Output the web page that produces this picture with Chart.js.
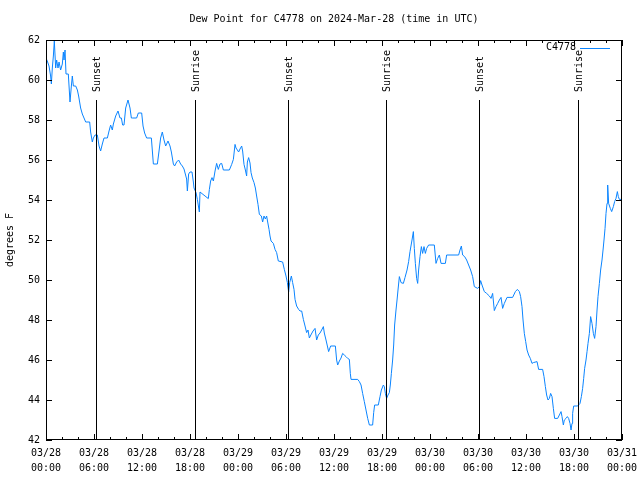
<!DOCTYPE html>
<html>
<head>
<meta charset="utf-8">
<script src="https://cdn.jsdelivr.net/npm/chart.js@4/dist/chart.umd.min.js"></script>
<style>
  html,body{margin:0;padding:0;background:#fff;}
</style>
</head>
<body>
<canvas id="dew" width="640" height="480"></canvas>
<script>
// hours since 03/28 00:00 UTC
var hours=[0,0.2,0.375,0.58,0.67,0.79,0.92,1.04,1.21,1.33,1.5,1.63,1.83,2.04,2.17,2.25,2.38,2.5,2.79,2.88,
3,3.17,3.29,3.42,3.71,3.92,4.08,4.33,4.54,4.75,4.96,5.46,5.58,5.79,5.92,6.13,6.42,6.63,6.83,7.04,
7.25,7.67,7.88,8.08,8.29,8.42,8.71,9,9.25,9.42,9.58,9.75,9.96,10.25,10.5,10.67,10.79,11.33,11.54,11.96,
12.13,12.33,12.58,13.17,13.42,13.92,14.13,14.33,14.54,14.75,14.96,15.25,15.5,15.67,15.92,16.08,16.33,16.58,16.83,17.04,
17.25,17.58,17.67,17.83,18,18.25,18.42,18.5,18.75,18.92,19.17,19.25,19.88,20.29,20.42,20.58,20.75,20.92,21.13,21.33,
21.54,21.75,21.96,22.17,22.92,23.21,23.42,23.63,23.75,23.92,24.08,24.25,24.46,24.58,24.75,24.92,25.08,25.17,25.33,25.5,
25.63,25.79,26,26.17,26.33,26.5,26.67,26.92,27.08,27.25,27.42,27.58,27.71,27.88,28,28.13,28.42,28.63,28.83,29.04,
29.58,29.79,30,30.17,30.33,30.46,30.67,30.83,31,31.13,31.33,31.58,31.75,31.96,32.17,32.38,32.58,32.75,32.92,33.17,
33.38,33.63,33.83,34.04,34.25,34.46,34.67,34.79,35,35.17,35.33,35.58,36,36.17,36.33,36.46,36.67,36.88,37.08,37.29,
37.5,37.71,37.92,38.04,38.13,38.96,39.17,39.38,39.58,39.79,40,40.21,40.42,40.83,40.96,41.08,41.54,41.75,41.92,42.17,
42.29,42.42,42.58,42.75,42.92,43.04,43.17,43.33,43.46,43.58,43.75,43.88,44,44.17,44.38,44.67,44.88,45.13,45.33,45.5,
45.75,45.92,46.04,46.17,46.33,46.46,46.58,46.75,46.92,47.08,47.25,47.42,47.58,47.83,48.54,48.75,48.96,49.17,49.38,49.92,
50.08,51.58,51.75,51.92,52.08,52.33,52.58,52.83,53.08,53.33,53.54,53.96,54.17,54.33,54.5,54.79,55.08,55.42,55.63,55.83,
56.04,56.25,56.46,56.67,56.88,57.08,57.29,57.63,58.33,58.67,58.92,59.17,59.33,59.5,59.63,59.79,59.96,60.13,60.33,60.54,
60.75,60.92,61.38,61.58,62.08,62.25,62.42,62.58,62.75,62.92,63.08,63.25,63.42,63.58,63.96,64.17,64.38,64.5,64.67,64.79,
65,65.17,65.33,65.5,65.63,65.75,65.83,65.96,66.46,66.75,66.92,67.08,67.21,67.33,67.5,67.63,67.75,67.92,68.08,68.25,
68.42,68.58,68.75,68.88,69,69.17,69.33,69.5,69.63,69.75,69.88,70,70.13,70.21,70.33,70.54,70.71,70.92,71.08,71.25,
71.42,71.54,71.67,71.88];
var dewPoint=[61.1,60.9,60.7,60.2,59.8,60.6,61.2,61.95,60.6,61.0,60.6,60.9,60.5,60.8,61.4,61.0,61.5,60.3,60.3,59.7,
58.9,59.7,60.2,59.7,59.7,59.5,59.2,58.6,58.3,58.1,57.9,57.9,57.4,56.9,57.1,57.25,57.25,56.7,56.45,56.8,
57.1,57.1,57.45,57.75,57.5,57.8,58.2,58.45,58.1,58.1,57.75,57.75,58.6,59.0,58.6,58.1,58.1,58.1,58.35,58.35,
57.7,57.35,57.1,57.1,55.8,55.8,56.45,57.1,57.4,57.0,56.7,56.95,56.7,56.4,55.8,55.7,55.9,56.0,55.8,55.7,
55.55,55.05,54.45,55.3,55.4,55.4,54.9,54.6,54.37,54.03,53.4,54.4,54.2,54.07,54.53,54.95,55.12,54.95,55.45,55.83,
55.53,55.8,55.83,55.5,55.5,55.78,56.03,56.78,56.6,56.5,56.4,56.55,56.7,56.45,55.78,55.5,55.2,55.9,56.12,55.85,
55.37,55.1,54.87,54.6,54.2,53.78,53.28,53.2,52.9,53.2,53.05,53.2,52.9,52.53,52.2,51.95,51.83,51.53,51.37,50.95,
50.9,50.53,50.2,49.87,49.4,49.87,50.2,49.87,49.53,49.03,48.7,48.53,48.45,48.45,48.03,47.7,47.37,47.5,47.1,47.3,
47.45,47.58,47.0,47.25,47.35,47.5,47.67,47.35,47.0,46.7,46.42,46.7,46.7,46.7,46.0,45.75,45.95,46.1,46.33,46.25,
46.17,46.08,46.03,45.33,45.03,45.03,44.92,44.75,44.33,43.92,43.5,43.08,42.75,42.75,43.37,43.75,43.75,44.17,44.5,44.75,
44.67,44.33,44.08,44.25,44.37,44.75,45.33,46.0,46.75,47.75,48.5,49.0,49.5,50.17,49.87,49.83,50.13,50.5,50.92,51.42,
52.0,52.42,51.58,50.83,50.08,49.83,50.5,51.17,51.67,51.33,51.67,51.33,51.58,51.75,51.75,50.83,51.08,51.25,50.83,50.83,
51.25,51.25,51.5,51.7,51.25,51.17,51.0,50.75,50.5,50.17,49.67,49.58,49.67,49.97,49.75,49.42,49.33,49.2,49.08,49.33,
48.47,48.67,48.83,49.0,49.13,48.58,48.83,49.13,49.13,49.42,49.53,49.42,49.17,48.67,48.0,47.33,46.92,46.5,46.25,46.08,
45.83,45.87,45.92,45.53,45.53,45.17,44.67,44.25,44.0,44.08,44.33,44.17,43.58,43.08,43.08,43.25,43.42,43.17,42.75,43.0,
43.08,43.17,43.08,42.83,42.5,42.83,43.33,43.7,43.7,43.83,44.17,44.58,45.08,45.58,46.0,46.42,46.83,47.33,48.17,47.83,
47.33,47.08,47.67,48.5,49.17,49.83,50.5,51.0,51.5,52.0,52.58,53.33,53.83,54.75,53.83,53.58,53.42,53.67,53.92,54.08,
54.42,54.17,54.03,54.03];

var eventNames=["Sunset","Sunrise","Sunset","Sunrise","Sunset","Sunrise"];
var eventHours=[6.29,18.67,30.29,42.54,54.17,66.54];
var eventTop=59;

var monoFont="'DejaVu Sans Mono', monospace";

function pad2(n){return (n<10?"0":"")+n;}
function tickLabel(v){
  var day=28+Math.floor(v/24);
  return ["03/"+pad2(day), pad2(v%24)+":00"];
}

var points=[];
for(var i=0;i<hours.length;i++){points.push({x:hours[i],y:dewPoint[i]});}

// gnuplot style frame, inward ticks, event markers and key
var gnuFrame={
  id:"gnuFrame",
  afterDraw:function(chart){
    var ctx=chart.ctx, a=chart.chartArea;
    var xs=chart.scales.x, ys=chart.scales.y;
    ctx.save();
    ctx.strokeStyle="#000";
    ctx.lineWidth=1;
    ctx.beginPath();
    // x ticks: major 6h, minor 2h
    for(var h=0;h<=72;h+=2){
      var px=Math.round(xs.getPixelForValue(h))+0.5;
      var len=(h%6===0)?6:3;
      ctx.moveTo(px,a.bottom);ctx.lineTo(px,a.bottom-len);
      ctx.moveTo(px,a.top);ctx.lineTo(px,a.top+len);
    }
    for(var v=42;v<=62;v+=2){
      var py=Math.round(ys.getPixelForValue(v))+0.5;
      ctx.moveTo(a.left,py);ctx.lineTo(a.left+6,py);
      ctx.moveTo(a.right,py);ctx.lineTo(a.right-6,py);
    }
    // event lines
    for(var k=0;k<eventHours.length;k++){
      var ex=Math.round(xs.getPixelForValue(eventHours[k]))+0.5;
      ctx.moveTo(ex,ys.getPixelForValue(eventTop));
      ctx.lineTo(ex,a.bottom);
    }
    ctx.stroke();
    ctx.strokeRect(a.left+0.5,a.top+0.5,a.right-a.left-1,a.bottom-a.top-1);

    ctx.fillStyle="#000";
    ctx.font="10px "+monoFont;
    for(var k=0;k<eventHours.length;k++){
      var ex2=xs.getPixelForValue(eventHours[k]);
      ctx.save();
      ctx.translate(ex2+1,ys.getPixelForValue(eventTop)-8);
      ctx.rotate(-Math.PI/2);
      ctx.textAlign="left";
      ctx.textBaseline="middle";
      ctx.fillText(eventNames[k],0,0);
      ctx.restore();
    }
    // key
    ctx.textAlign="right";
    ctx.textBaseline="middle";
    ctx.fillText("C4778",576,47);
    ctx.strokeStyle=chart.data.datasets[0].borderColor;
    ctx.beginPath();
    ctx.moveTo(580,48.5);ctx.lineTo(610,48.5);
    ctx.stroke();
    ctx.restore();
  }
};

new Chart(document.getElementById("dew"),{
  type:"line",
  data:{
    datasets:[{
      label:"C4778",
      data:points,
      borderColor:"#0a84ff",
      borderWidth:1,
      pointRadius:0,
      tension:0,
      fill:false
    }]
  },
  options:{
    responsive:false,
    animation:false,
    devicePixelRatio:1,
    layout:{padding:{top:0,right:18,left:0,bottom:0}},
    plugins:{
      legend:{display:false},
      tooltip:{enabled:false},
      title:{
        display:true,
        fullSize:false,
        text:"Dew Point for C4778 on 2024-Mar-28 (time in UTC)",
        color:"#000",
        font:{family:monoFont,size:10,weight:"normal",lineHeight:1.2},
        padding:{top:13,bottom:15}
      }
    },
    scales:{
      x:{
        type:"linear",
        min:0,max:72,
        grid:{display:false,drawTicks:false},
        border:{display:false},
        afterFit:function(s){s.height=40;s.paddingLeft=0;s.paddingRight=0;},
        ticks:{
          stepSize:6,
          autoSkip:false,
          maxRotation:0,
          padding:6,
          color:"#000",
          font:{family:monoFont,size:10,lineHeight:1.5},
          callback:function(v){return tickLabel(v);}
        }
      },
      y:{
        min:42,max:62,
        grid:{display:false,drawTicks:false},
        border:{display:false},
        afterFit:function(s){s.width=46;s.paddingTop=0;s.paddingBottom=0;},
        title:{
          display:true,
          text:"degrees F",
          color:"#000",
          font:{family:monoFont,size:10},
          padding:{top:4,bottom:0}
        },
        ticks:{
          stepSize:2,
          padding:6,
          color:"#000",
          font:{family:monoFont,size:10}
        }
      }
    }
  },
  plugins:[gnuFrame]
});
</script>
</body>
</html>
